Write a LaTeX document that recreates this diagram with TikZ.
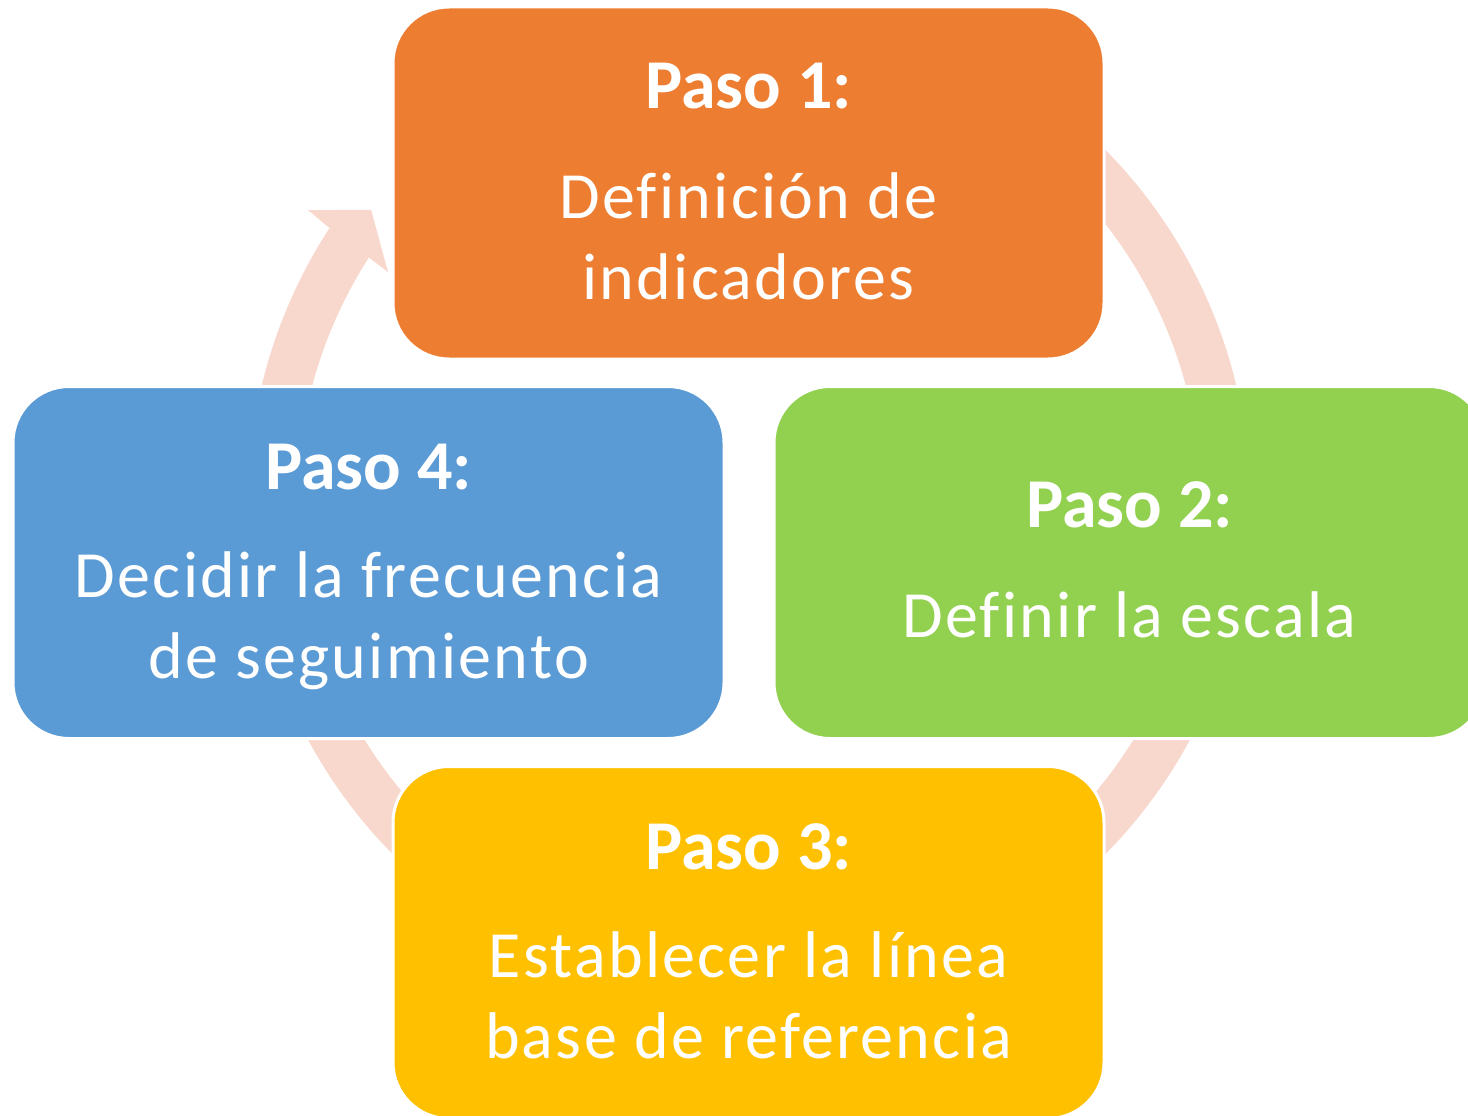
\documentclass[tikz,border=0pt]{standalone}
\usepackage{fontspec}
\setmainfont{Carlito}
\newfontfamily\bodyfont{Carlito}[LetterSpace=3.5, Ligatures=NoCommon]
\definecolor{orangeS}{RGB}{237,125,49}
\definecolor{blueS}{RGB}{91,155,213}
\definecolor{greenS}{RGB}{146,208,80}
\definecolor{yellowS}{RGB}{255,192,0}
\definecolor{ringS}{RGB}{248,216,205}
\tikzset{
  stepbox/.style={rectangle, rounded corners=56pt, draw=white, line width=3pt,
    minimum width=711pt, minimum height=352pt, inner sep=0pt},
  ttl/.style={text=white, font=\bfseries\fontsize{70}{84}\selectfont, anchor=base, inner sep=0pt},
  bdy/.style={text=white, font=\bodyfont\fontsize{66}{80}\selectfont, anchor=base, inner sep=0pt},
  ringpart/.style={fill=ringS, draw=none}
}
\begin{document}
\begin{tikzpicture}[x=1pt,y=1pt]
\useasboundingbox (0,0) rectangle (1468,-1116);
\clip (0,0) rectangle (1468,-1116);
\coordinate (c) at (749,-502);
% ring segments
\fill[ringpart, shift={(c)}] (70:501) arc[start angle=70, end angle=-10, radius=501]
  -- (-10:452) arc[start angle=-10, end angle=70, radius=452] -- cycle;
\fill[ringpart, shift={(c)}] (5:501) arc[start angle=5, end angle=-75, radius=501]
  -- (-75:452) arc[start angle=-75, end angle=5, radius=452] -- cycle;
\fill[ringpart, shift={(c)}] (-105:501) arc[start angle=-105, end angle=-185, radius=501]
  -- (-185:452) arc[start angle=-185, end angle=-105, radius=452] -- cycle;
\fill[ringpart, shift={(c)}] (185:501) arc[start angle=185, end angle=146.85, radius=501]
  -- (146.5:529) -- (142.3:477.6) -- (147.5:428) -- (147.26:452)
  arc[start angle=147.26, end angle=185, radius=452] -- cycle;
% boxes
\node[stepbox, fill=orangeS] (p1) at (748.5,-183) {};
\node[stepbox, fill=greenS]  (p2) at (1129.5,-562.5) {};
\node[stepbox, fill=yellowS] (p3) at (748.5,-942.5) {};
\node[stepbox, fill=blueS]   (p4) at (368.5,-562.5) {};
% texts
\node[ttl] (t1) at ([yshift=74pt]p1.center) {Paso 1:};
\node[bdy] (b1a) at ([yshift=-35pt]p1.center) {Definición de};
\node[bdy] (b1b) at ([yshift=-116pt]p1.center) {indicadores};
\node[ttl] (t2) at ([yshift=35.5pt]p2.center) {Paso 2:};
\node[bdy] (b2a) at ([yshift=-74.5pt]p2.center) {Definir la escala};
\node[ttl] (t3) at ([yshift=73.5pt]p3.center) {Paso 3:};
\node[bdy] (b3a) at ([yshift=-35pt]p3.center) {Establecer la línea};
\node[bdy] (b3b) at ([yshift=-116pt]p3.center) {base de referencia};
\node[ttl] (t4) at ([yshift=73.5pt]p4.center) {Paso 4:};
\node[bdy] (b4a) at ([yshift=-35pt]p4.center) {Decidir la frecuencia};
\node[bdy] (b4b) at ([yshift=-116pt]p4.center) {de seguimiento};
\end{tikzpicture}
\end{document}
